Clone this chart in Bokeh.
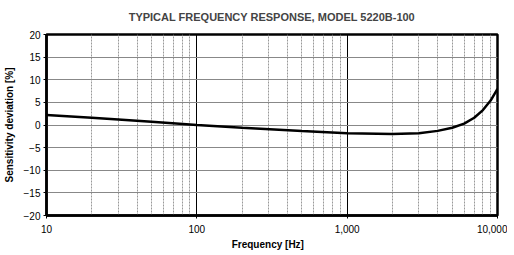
from bokeh.plotting import figure
from bokeh.models import FixedTicker, Range1d
from bokeh.embed import file_html
from bokeh.resources import INLINE

freq = [10, 20, 30, 50, 100, 200, 500, 1000, 2000, 3000, 4000, 5000, 6000, 7000, 8000, 9000, 10000]
deviation = [2.2, 1.6, 1.2, 0.7, 0.0, -0.6, -1.3, -1.8, -2.0, -1.8, -1.3, -0.6, 0.3, 1.6, 3.3, 5.4, 8.0]

x_ticks = [10, 100, 1000, 10000]
x_labels = ["10", "100", "1,000", "10,000"]
x_minor = [d * m for d in (10, 100, 1000) for m in range(2, 10)]
y_ticks = [-20, -15, -10, -5, 0, 5, 10, 15, 20]

FONT = "Liberation Sans"

p = figure(x_axis_type="log", frame_width=451, frame_height=181,
           x_range=Range1d(10, 10000), y_range=Range1d(-20, 20),
           output_backend="svg", toolbar_location=None,
           min_border_left=45, min_border_right=10, min_border_top=34, min_border_bottom=40,
           title="TYPICAL FREQUENCY RESPONSE, MODEL 5220B-100")
p.title.text_font = FONT
p.title.text_font_size = "11px"
p.title.text_font_style = "bold"
p.title.align = "center"
p.title.vertical_align = "top"
p.title.offset = 0
p.title.standoff = 20

p.outline_line_color = "black"
p.outline_line_width = 2.5

p.xaxis.ticker = FixedTicker(ticks=x_ticks, minor_ticks=x_minor)
p.xaxis.major_label_overrides = {t: l for t, l in zip(x_ticks, x_labels)}
p.yaxis.ticker = FixedTicker(ticks=y_ticks)
for ax in (p.xaxis, p.yaxis):
    ax.axis_line_color = "black"
    ax.axis_line_width = 2.5
    ax.major_tick_line_color = "black"
    ax.major_tick_out = 3
    ax.major_tick_in = 0
    ax.minor_tick_out = 0
    ax.minor_tick_in = 0
    ax.major_label_text_font = FONT
    ax.major_label_text_font_size = "10px"
    ax.major_label_text_color = "black"
    ax.axis_label_text_font = FONT
    ax.axis_label_text_font_size = "10px"
    ax.axis_label_text_font_style = "bold"
    ax.axis_label_text_color = "black"
p.xaxis.major_label_standoff = 6
p.yaxis.major_label_standoff = 3
p.xaxis.axis_label = "Frequency    [Hz]"
p.yaxis.axis_label = "Sensitivity deviation [%]"
p.xaxis.axis_label_standoff = 3
p.yaxis.axis_label_standoff = 6

p.xgrid.ticker = FixedTicker(ticks=x_ticks, minor_ticks=x_minor)
p.xgrid.grid_line_color = "black"
p.xgrid.grid_line_width = 1
p.xgrid.minor_grid_line_color = "#999999"
p.xgrid.minor_grid_line_dash = "2 1"
p.xgrid.minor_grid_line_width = 1
p.ygrid.ticker = FixedTicker(ticks=y_ticks)
p.ygrid.grid_line_color = "#888888"
p.ygrid.grid_line_width = 1

p.line(freq, deviation, line_color="black", line_width=2.5)

open("out.html", "w").write(file_html(p, INLINE))
